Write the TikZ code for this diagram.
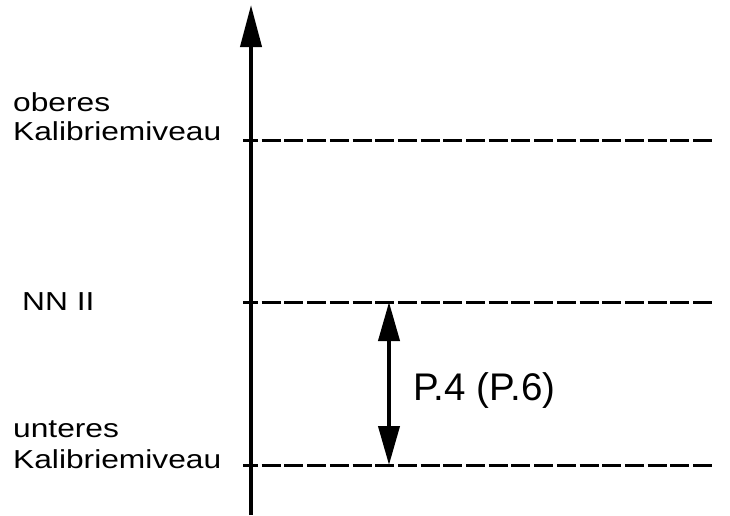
\documentclass[tikz,border=0pt]{standalone}
\usepackage{fontspec}
\setmainfont{Liberation Sans}
\newfontfamily\lblfont[FakeStretch=1.22]{Liberation Sans}
\usetikzlibrary{arrows.meta}
\begin{document}
\begin{tikzpicture}[x=1pt,y=-1pt,
  axis/.style={line width=4pt, -{Triangle[length=42pt,width=21pt]}},
  dim/.style={line width=4pt, {Triangle[length=39pt,width=21pt]}-{Triangle[length=39pt,width=21pt]}},
  lvl/.style={line width=3pt, dash pattern=on 19pt off 3.7pt, dash phase=4pt},
  lbl/.style={anchor=base west, inner sep=0pt, font=\lblfont\fontsize{26}{29}\selectfont},
  plbl/.style={anchor=base west, inner sep=0pt, font=\fontsize{38.5}{44}\selectfont}]
\useasboundingbox (0,0) rectangle (730,515);
% axis
\coordinate (axb) at (251,515);
\coordinate (axt) at (251,5);
\draw[axis] (axb) -- (axt);
% levels
\coordinate (l1a) at (243,140); \coordinate (l1b) at (712,140);
\coordinate (l2a) at (243,302); \coordinate (l2b) at (712,302);
\coordinate (l3a) at (243,465); \coordinate (l3b) at (712,465);
\draw[lvl] (l1a) -- (l1b);
\draw[lvl] (l2a) -- (l2b);
\draw[lvl] (l3a) -- (l3b);
% dimension arrow
\coordinate (dt) at (389,302);
\coordinate (db) at (389,465);
\draw[dim] (dt) -- (db);
% labels
\node[lbl] (ob) at (13,111) {oberes};
\node[lbl] (k1) at (13,140) {Kalibriemiveau};
\node[lbl] (nn) at (22,310) {NN II};
\node[lbl] (un) at (13,437) {unteres};
\node[lbl] (k2) at (13,468) {Kalibriemiveau};
\node[plbl] (p) at (413,400) {P.4 (P.6)};
\end{tikzpicture}
\end{document}
